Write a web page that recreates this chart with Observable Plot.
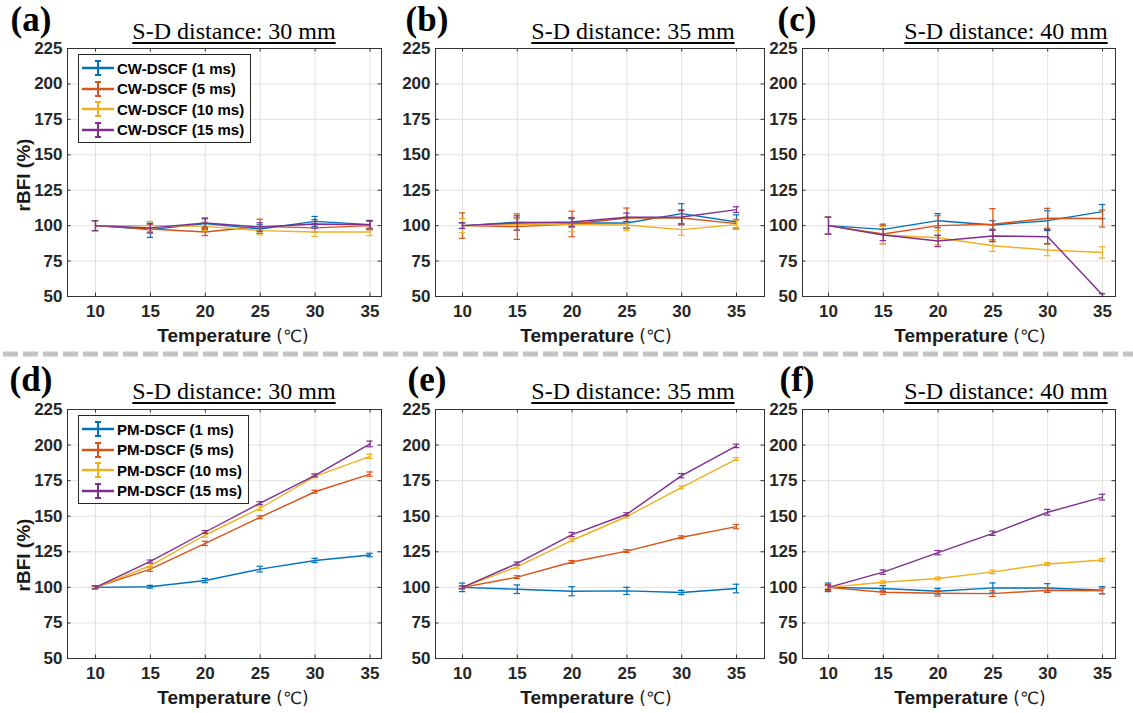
<!DOCTYPE html>
<html>
<head>
<meta charset="utf-8">
<script src="https://cdn.jsdelivr.net/npm/d3@7"></script>
<script src="https://cdn.jsdelivr.net/npm/@observablehq/plot@0.6"></script>
<style>
  body { margin: 0; background: #fff; }
  #root { position: relative; width: 1133px; height: 713px; overflow: hidden; background: #fff; }
  .t { position: absolute; white-space: nowrap; transform: translate(-50%, -50%); line-height: 1; color: #1a1a1a; }
  .letter { font-family: "Liberation Serif", "Times New Roman", serif; font-weight: bold; font-size: 35px; color: #000; }
  .title { font-family: "Liberation Serif", "Times New Roman", serif; font-size: 24px; text-decoration: underline; text-underline-offset: 3px; text-decoration-thickness: 1.5px; color: #000; }
  .xlab { font-family: "Liberation Sans", Arial, sans-serif; font-weight: bold; font-size: 19px; }
  .ylab { font-family: "Liberation Sans", Arial, sans-serif; font-weight: bold; font-size: 19px; transform: translate(-50%, -50%) rotate(-90deg); }
  .deg { font-weight: normal; font-family: "DejaVu Sans", sans-serif; font-size: 17px; }
  .legend { position: absolute; background: #fff; border: 1.5px solid #262626; box-sizing: border-box; padding: 3px 6px 2px 2px; white-space: nowrap; }
  .legend .row { display: flex; align-items: center; height: 20.5px; font-family: "Liberation Sans", Arial, sans-serif; font-weight: bold; font-size: 15px; color: #000; }
  .legend svg { margin-right: 2px; flex: none; }
  .panel { position: absolute; }
</style>
</head>
<body>
<div id="root"></div>
<script>
// ---------------- data ----------------
const temps = [10, 15, 20, 25, 30, 35];
const durations = ["1 ms", "5 ms", "10 ms", "15 ms"];
const xTicks = [10, 15, 20, 25, 30, 35];
const yTicks = [50, 75, 100, 125, 150, 175, 200, 225];
const colors = ["#0072BD", "#D95319", "#EDB120", "#7E2F8E"];

// (a) CW-DSCF, 30 mm   rows: 1, 5, 10, 15 ms
const cw30Mean = [
  [100, 97.2, 101.4, 97.6, 103.0, 100.7],
  [100, 97.6, 95.5, 99.5, 98.4, 100.0],
  [100, 100.0, 99.5, 96.5, 95.5, 95.5],
  [100, 98.4, 101.9, 99.0, 101.2, 100.7]
];
const cw30Err = [
  [3.5, 5.5, 4, 3, 3.5, 2.5],
  [3.5, 3, 2.5, 5, 3, 3],
  [3.5, 3, 3, 3, 3, 2.5],
  [3.5, 3, 3, 3, 3, 3]
];
// (b) CW-DSCF, 35 mm
const cw35Mean = [
  [100, 102.4, 101.9, 101.9, 108.5, 102.6],
  [100, 99.3, 101.2, 105.4, 105.4, 101.4],
  [100, 100.7, 100.7, 100.5, 97.2, 100.7],
  [100, 101.9, 102.6, 105.9, 106.1, 111.3]
];
const cw35Err = [
  [2, 3, 3, 4, 7, 5],
  [9, 9, 9, 7, 5, 3],
  [5, 4, 5, 4, 4, 3],
  [2, 5, 3, 3, 5, 2]
];
// (c) CW-DSCF, 40 mm
const cw40Mean = [
  [100, 97.4, 103.5, 100.5, 103.5, 109.9],
  [100, 94.1, 100.0, 101.0, 105.2, 105.0],
  [100, 93.4, 91.5, 85.8, 82.8, 81.1],
  [100, 93.4, 89.2, 92.7, 92.2, 51.0]
];
const cw40Err = [
  [6, 3, 5, 3, 7, 5],
  [6, 7, 7, 11, 7, 6],
  [6, 6, 5, 4, 4, 4],
  [6, 4, 4, 4, 5, 1]
];
// (d) PM-DSCF, 30 mm
const pm30Mean = [
  [100, 100.4, 104.8, 112.8, 118.9, 122.7],
  [100, 112.8, 130.9, 149.3, 167.2, 179.6],
  [100, 115.2, 136.8, 155.6, 178.0, 192.1],
  [100, 118.2, 138.9, 159.2, 178.7, 200.8]
];
const pm30Err = [
  [1, 1, 1.5, 2, 1.5, 1.2],
  [1, 1.5, 1.5, 1, 1, 1.5],
  [1, 1.5, 1.5, 1.5, 1, 1.5],
  [1, 1, 1, 1, 1, 2]
];
// (e) PM-DSCF, 35 mm
const pm35Mean = [
  [100, 98.7, 97.3, 97.5, 96.4, 99.2],
  [100, 107.2, 117.8, 125.5, 135.2, 142.7],
  [100, 114.5, 133.1, 149.8, 170.2, 190.2],
  [100, 116.8, 137.1, 151.4, 178.5, 199.4]
];
const pm35Err = [
  [3, 3, 3.2, 2.5, 1.5, 3],
  [1, 1, 1, 1, 1, 1.5],
  [1, 1, 1, 1, 1, 1],
  [1, 1, 1.5, 1, 1.5, 1.2]
];
// (f) PM-DSCF, 40 mm
const pm40Mean = [
  [100, 99.2, 97.3, 99.6, 99.6, 98.0],
  [100, 96.6, 95.9, 95.6, 98.0, 97.5],
  [100, 103.6, 106.2, 110.9, 116.4, 119.2],
  [100, 110.7, 124.4, 138.0, 152.8, 163.4]
];
const pm40Err = [
  [3, 2, 2, 3.5, 3, 2.5],
  [2, 1.5, 2, 2, 1.5, 2],
  [1, 1, 1, 1.2, 1, 1],
  [1.5, 1.5, 1.5, 1.5, 2, 2]
];

const panelLetters = ["(a)", "(b)", "(c)", "(d)", "(e)", "(f)"];
const panelTitles = ["S-D distance: 30 mm", "S-D distance: 35 mm", "S-D distance: 40 mm",
                     "S-D distance: 30 mm", "S-D distance: 35 mm", "S-D distance: 40 mm"];
const methods = ["CW-DSCF", "PM-DSCF"];
const xLabel = "Temperature";
const yLabel = "rBFI (%)";

// ---------------- layout ----------------
const cols = [
  {left: 67, right: 381, x10: 95, x35: 369.5, letterX: 31, titleX: 234, xlabX: 233},
  {left: 435, right: 764, x10: 462, x35: 736, letterX: 427, titleX: 633, xlabX: 596},
  {left: 802, right: 1115, x10: 828, x35: 1102, letterX: 797, titleX: 1006, xlabX: 970}
];
const rows = [
  {top: 48, bottom: 296, letterY: 19, titleY: 31, xlabY: 335, ylabY: 175},
  {top: 409, bottom: 658, letterY: 379, titleY: 391, xlabY: 697, ylabY: 555}
];

const root = document.getElementById("root");
function addText(html, x, y, cls) {
  const d = document.createElement("div");
  d.className = "t " + cls;
  d.style.left = x + "px";
  d.style.top = y + "px";
  d.innerHTML = html;
  root.appendChild(d);
  return d;
}

const panels = [
  {means: cw30Mean, errs: cw30Err, col: 0, row: 0, method: 0, legend: true},
  {means: cw35Mean, errs: cw35Err, col: 1, row: 0, method: 0},
  {means: cw40Mean, errs: cw40Err, col: 2, row: 0, method: 0},
  {means: pm30Mean, errs: pm30Err, col: 0, row: 1, method: 1, legend: true},
  {means: pm35Mean, errs: pm35Err, col: 1, row: 1, method: 1},
  {means: pm40Mean, errs: pm40Err, col: 2, row: 1, method: 1}
];

panels.forEach((p, k) => {
  const c = cols[p.col], r = rows[p.row];
  const ML = 72, MR = 4, MT = 8, MB = 34;
  const fw = c.right - c.left, fh = r.bottom - r.top;
  const W = fw + ML + MR, H = fh + MT + MB;
  const svgLeft = c.left - ML, svgTop = r.top - MT;
  const pxPerUnit = (c.x35 - c.x10) / 25;
  const pxPerUnitY = fh / 175;
  const cap = 3.2 / pxPerUnit;
  const tickLenY = 3.5 / pxPerUnitY;   // inner tick length, in y units
  const tickLenX = 3.5 / pxPerUnit;    // inner tick length, in x units
  const xLo = 10 - (c.x10 - c.left) / pxPerUnit, xHi = 35 + (c.right - c.x35) / pxPerUnit;

  const marks = [
    Plot.gridX(xTicks, {stroke: "#e2e2e2", strokeOpacity: 1, strokeWidth: 1}),
    Plot.gridY(yTicks, {stroke: "#e2e2e2", strokeOpacity: 1, strokeWidth: 1}),
    // MATLAB-style inward ticks
    Plot.ruleX(xTicks, {x: d => d, y1: 50, y2: 50 + tickLenY, stroke: "#333", strokeWidth: 1}),
    Plot.ruleX(xTicks, {x: d => d, y1: 225, y2: 225 - tickLenY, stroke: "#333", strokeWidth: 1}),
    Plot.ruleY(yTicks, {y: d => d, x1: xLo, x2: xLo + tickLenX, stroke: "#333", strokeWidth: 1}),
    Plot.ruleY(yTicks, {y: d => d, x1: xHi, x2: xHi - tickLenX, stroke: "#333", strokeWidth: 1}),
    Plot.axisX(xTicks, {label: null, tickSize: 0, tickPadding: 8, fontSize: 17, fontWeight: "bold", fill: "#262626"}),
    Plot.axisY(yTicks, {label: null, tickSize: 0, tickPadding: 5, fontSize: 17, fontWeight: "bold", fill: "#262626"})
  ];
  durations.forEach((dur, s) => {
    const data = temps.map((t, i) => ({t, v: p.means[s][i], e: p.errs[s][i], series: dur}));
    marks.push(
      Plot.line(data, {x: "t", y: "v", stroke: colors[s], strokeWidth: 1.4}),
      Plot.ruleX(data, {x: "t", y1: d => d.v - d.e, y2: d => d.v + d.e, stroke: colors[s], strokeWidth: 1.2}),
      Plot.ruleY(data, {y: d => d.v - d.e, x1: d => d.t - cap, x2: d => d.t + cap, stroke: colors[s], strokeWidth: 1.2}),
      Plot.ruleY(data, {y: d => d.v + d.e, x1: d => d.t - cap, x2: d => d.t + cap, stroke: colors[s], strokeWidth: 1.2})
    );
  });
  marks.push(Plot.frame({stroke: "#333", strokeWidth: 1}));

  const chart = Plot.plot({
    width: W, height: H,
    marginLeft: ML, marginRight: MR, marginTop: MT, marginBottom: MB,
    x: {type: "linear", domain: [10, 35], range: [c.x10 - svgLeft, c.x35 - svgLeft], label: null},
    y: {type: "linear", domain: [50, 225], range: [MT + fh, MT], label: null},
    style: {background: "transparent", fontFamily: "'Liberation Sans', Arial, sans-serif", color: "#262626", overflow: "visible"},
    marks
  });
  chart.classList.add("panel");
  chart.style.left = svgLeft + "px";
  chart.style.top = svgTop + "px";
  root.appendChild(chart);

  addText(panelLetters[k], c.letterX, r.letterY, "letter");
  addText(panelTitles[k], c.titleX, r.titleY, "title");
  addText(xLabel + ' <span class="deg">(℃)</span>', c.xlabX, r.xlabY, "xlab");
  if (p.col === 0) addText(yLabel, 23, r.ylabY, "ylab");

  if (p.legend) {
    const lg = document.createElement("div");
    lg.className = "legend";
    lg.style.left = "78px";
    lg.style.top = (r.top + 6) + "px";
    durations.forEach((dur, s) => {
      const row = document.createElement("div");
      row.className = "row";
      row.innerHTML =
        `<svg width="34" height="18"><line x1="1" y1="9" x2="33" y2="9" stroke="${colors[s]}" stroke-width="2.5"/>` +
        `<line x1="17" y1="2" x2="17" y2="16" stroke="${colors[s]}" stroke-width="2"/>` +
        `<line x1="14" y1="2" x2="20" y2="2" stroke="${colors[s]}" stroke-width="2"/>` +
        `<line x1="14" y1="16" x2="20" y2="16" stroke="${colors[s]}" stroke-width="2"/></svg>` +
        `<span>${methods[p.method]} (${dur})</span>`;
      lg.appendChild(row);
    });
    root.appendChild(lg);
  }
});

// dashed separator
const sep = document.createElementNS("http://www.w3.org/2000/svg", "svg");
sep.setAttribute("width", 1133);
sep.setAttribute("height", 10);
sep.style.position = "absolute";
sep.style.left = "0px";
sep.style.top = "349px";
sep.innerHTML = '<line x1="3" y1="5" x2="1133" y2="5" stroke="#c4c4c4" stroke-width="5" stroke-dasharray="15 5"/>';
root.appendChild(sep);
</script>
</body>
</html>
